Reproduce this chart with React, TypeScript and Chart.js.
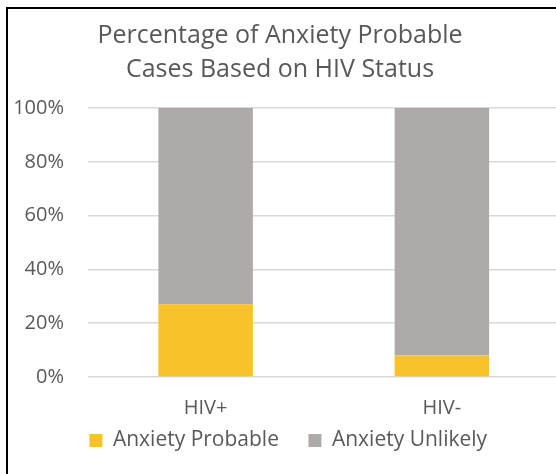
import React, { useEffect, useRef } from "react";
import { Chart, registerables } from "chart.js";

Chart.register(...registerables);

const categories = ["HIV+", "HIV-"];
const anxietyProbable = [27, 8];
const anxietyUnlikely = [73, 92];
const seriesNames = ["Anxiety Probable", "Anxiety Unlikely"];
const titleLines = ["Percentage of Anxiety Probable", "Cases Based on HIV Status"];
const yTicks = { min: 0, max: 100, step: 20 };

const FONT = "'Open Sans', sans-serif";
const TEXT = "#595959";

const legendShift = {
  id: "legendShift",
  afterLayout(chart: any) {
    if (chart.legend) {
      chart.legend.left += 16.5;
    }
  },
};

export default function App() {
  const ref = useRef<HTMLCanvasElement | null>(null);

  useEffect(() => {
    if (!ref.current) return;
    const chart = new Chart(ref.current, {
      type: "bar",
      data: {
        labels: categories,
        datasets: [
          {
            label: seriesNames[0],
            data: anxietyProbable,
            backgroundColor: "#F8C22A",
            categoryPercentage: 0.4,
            barPercentage: 1,
          },
          {
            label: seriesNames[1],
            data: anxietyUnlikely,
            backgroundColor: "#AEAAAA",
            categoryPercentage: 0.4,
            barPercentage: 1,
          },
        ],
      },
      plugins: [legendShift],
      options: {
        responsive: false,
        animation: false,
        devicePixelRatio: 1,
        layout: { padding: 0 },
        plugins: {
          title: {
            display: true,
            text: titleLines,
            color: TEXT,
            font: { family: FONT, size: 25, weight: "normal", lineHeight: 1.38 },
            padding: { top: 18.25, bottom: 20.75 },
          },
          legend: {
            position: "bottom",
            labels: {
              color: TEXT,
              font: { family: FONT, size: 21 },
              boxWidth: 13,
              boxHeight: 13,
              padding: 29.5,
            },
          },
          tooltip: { enabled: false },
        },
        scales: {
          x: {
            stacked: true,
            grid: { display: false },
            border: { display: false },
            ticks: {
              color: TEXT,
              font: { family: FONT, size: 20 },
              mirror: true,
              padding: -43,
            },
            afterFit: (s: any) => {
              s.height = 23.5;
            },
          },
          y: {
            stacked: true,
            min: yTicks.min,
            max: yTicks.max,
            grid: { color: "#D9D9D9", lineWidth: 1.5, drawTicks: false },
            border: { display: false },
            ticks: {
              stepSize: yTicks.step,
              color: TEXT,
              font: { family: FONT, size: 20 },
              padding: 23.5,
              callback: (v: any) => v + "%",
            },
            afterFit: (s: any) => {
              s.width = 87.5;
            },
          },
        },
      },
    });
    return () => chart.destroy();
  }, []);

  return (
    <div
      style={{
        position: "fixed",
        left: 0,
        top: 0,
        width: 556,
        height: 474,
        overflow: "hidden",
        background: "#fff",
      }}
    >
      <div
        style={{
          position: "absolute",
          left: 6,
          top: 7,
          width: 640,
          height: 560,
          border: "2px solid #000",
          boxSizing: "border-box",
        }}
      />
      <canvas
        ref={ref}
        width={560}
        height={461}
        style={{ position: "absolute", left: 0, top: 0, width: 560, height: 461 }}
      />
    </div>
  );
}
